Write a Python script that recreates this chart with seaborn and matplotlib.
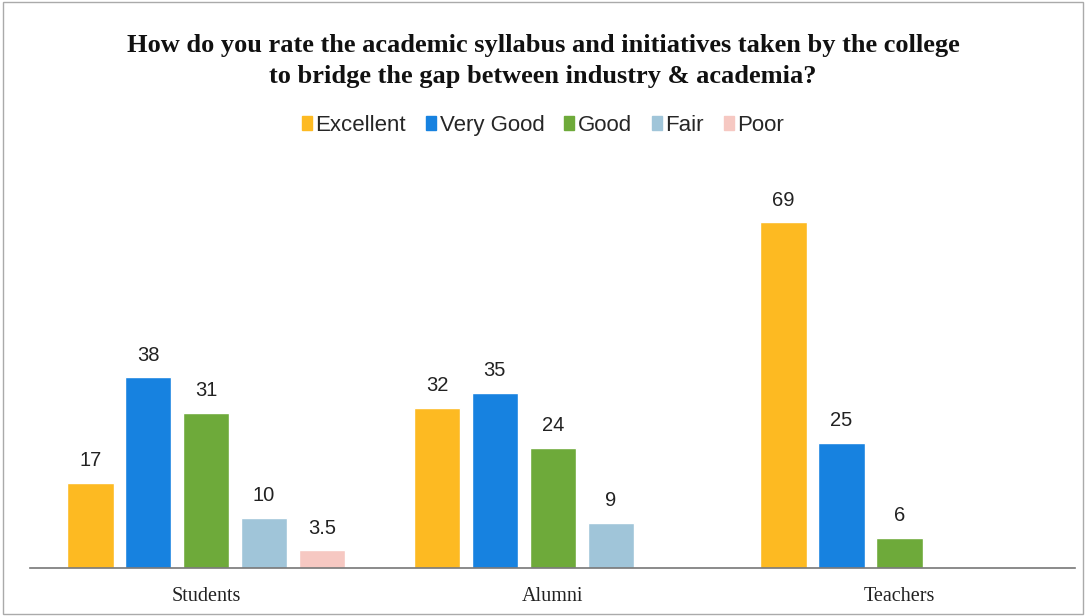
# grouped bar chart: rating of academic syllabus by group
import numpy as np
import pandas as pd
import matplotlib.pyplot as plt
import seaborn as sns

# data
groups = ['Students', 'Alumni', 'Teachers']
ratings = ['Excellent', 'Very Good', 'Good', 'Fair', 'Poor']
excellent = [17, 32, 69]
very_good = [38, 35, 25]
good = [31, 24, 6]
fair = [10, 9, np.nan]
poor = [3.5, np.nan, np.nan]

colors = ['#FDBA22', '#1782E0', '#6EAA3A', '#A0C5D9', '#F6C8C2']

rows = []
for rating, vals in zip(ratings, [excellent, very_good, good, fair, poor]):
    for g, v in zip(groups, vals):
        rows.append({'group': g, 'rating': rating, 'value': v})
df = pd.DataFrame(rows)

sns.set_style('white')
plt.rcParams['font.family'] = ['Liberation Sans', 'DejaVu Sans']

fig = plt.figure(figsize=(10.86, 6.16), dpi=100)
ax = fig.add_axes([0.028, 0.078, 0.962, 0.651])

sns.barplot(data=df, x='group', y='value', hue='rating', order=groups,
            hue_order=ratings, palette=colors, width=0.835, gap=0.2,
            saturation=1, ax=ax, legend=False)

for container in ax.containers:
    labels = []
    for v in container.datavalues:
        if np.isnan(v):
            labels.append('')
        else:
            labels.append(f'{v:g}')
    ax.bar_label(container, labels=labels, padding=9, fontsize=14.5, color='#222222')

ax.set_xlim(-0.507, 2.507)
ax.set_ylim(0, 80)
ax.set_xlabel('')
ax.set_ylabel('')
ax.set_yticks([])
for s in ['top', 'right', 'left']:
    ax.spines[s].set_visible(False)
ax.spines['bottom'].set_color('#777777')
ax.spines['bottom'].set_linewidth(1.2)
ax.tick_params(axis='x', length=0, pad=14)
for lbl in ax.get_xticklabels():
    lbl.set_fontfamily('Liberation Serif')
    lbl.set_fontsize(14.5)
    lbl.set_color('#222222')

# title
fig.text(0.5, 0.901, 'How do you rate the academic syllabus and initiatives taken by the college\n'
         'to bridge the gap between industry & academia?', ha='center', va='center',
         fontfamily='Liberation Serif', fontweight='bold', fontsize=19, linespacing=1.45,
         color='#111111')

# legend
handles = [plt.Rectangle((0, 0), 1, 1, color=c) for c in colors]
fig.legend(handles, ratings, loc='center', bbox_to_anchor=(0.5, 0.797), ncol=5,
           frameon=False, fontsize=16, handlelength=0.45, handleheight=0.6,
           handletextpad=0.15, columnspacing=0.9)

# light frame around the chart
fig.add_artist(plt.Rectangle((0.003, 0.003), 0.994, 0.994, transform=fig.transFigure,
                             fill=False, edgecolor='#aaaaaa', linewidth=1))

fig.savefig('out.png', dpi=100)
